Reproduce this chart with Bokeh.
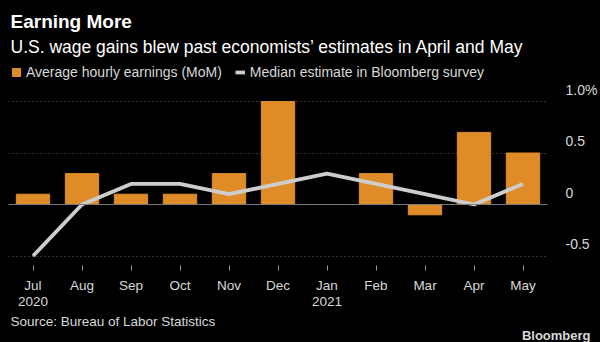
from bokeh.plotting import figure
from bokeh.models import (Range1d, LinearAxis, FixedTicker, Legend, LegendItem, Span, Grid,
                          ColumnDataSource, Title)
from bokeh.embed import file_html
from bokeh.resources import INLINE

months = ["Jul", "Aug", "Sep", "Oct", "Nov", "Dec", "Jan", "Feb", "Mar", "Apr", "May"]
year_of = ["2020", "", "", "", "", "", "2021", "", "", "", ""]
earnings = [0.1, 0.3, 0.1, 0.1, 0.3, 1.0, 0.0, 0.3, -0.1, 0.7, 0.5]
median_est = [-0.5, 0.0, 0.2, 0.2, 0.1, 0.2, 0.3, 0.2, 0.1, 0.0, 0.2]
y_ticks = [-0.5, 0, 0.5, 1.0]
y_tick_labels = ["-0.5", "0", "0.5", "1.0%"]

FONT = "Liberation Sans"
ORANGE = "#DF8C28"
LINEC = "#CDCDCD"
TXT = "#D8D8D8"

idx = list(range(len(months)))
src = ColumnDataSource(dict(x=idx, month=months, earn=earnings, med=median_est))

# frame: top 62, bottom 265 ; 0 -> 204, 103 px per unit
TOP, BOT, ZERO, PPU = 62, 265, 204, 103.0
y0 = (ZERO - BOT) / PPU
y1 = (ZERO - TOP) / PPU
shift = 12 / PPU

p = figure(width=600, height=342, x_range=Range1d(-0.5, len(months) - 0.5),
           y_range=Range1d(y0, y1),
           output_backend="svg", toolbar_location=None, x_axis_type=None, y_axis_type=None,
           min_border_left=8, min_border_right=52, min_border_top=TOP, min_border_bottom=342 - BOT,
           background_fill_color="black", border_fill_color="black")
p.outline_line_color = None
p.styles = {"background-color": "black"}

p.add_layout(Grid(dimension=1, ticker=FixedTicker(ticks=[-0.5, 0.5, 1.0]),
                  grid_line_color="#6a6a6a", grid_line_dash="1 3", grid_line_width=1))
p.add_layout(Span(location=0, dimension="width", line_color="#7a7a7a", line_width=1))

bars = p.vbar(x="x", top="earn", width=0.68, source=src, fill_color=ORANGE, line_color=ORANGE)
ln = p.line(x="x", y="med", source=src, line_width=3.8, line_color=LINEC)

p.extra_y_ranges = {"lab": Range1d(y0 - shift, y1 - shift)}
ya = LinearAxis(y_range_name="lab", ticker=FixedTicker(ticks=y_ticks),
                major_label_overrides={k: v for k, v in zip(y_ticks, y_tick_labels)},
                axis_line_color=None, major_tick_line_color=None, minor_tick_line_color=None,
                major_label_text_color=TXT, major_label_text_font_size="14px",
                major_label_text_font=FONT, major_label_standoff=12)
p.add_layout(ya, "right")

xa = LinearAxis(ticker=FixedTicker(ticks=idx),
                major_label_overrides={i: m for i, m in zip(idx, months)},
                axis_line_color=None, major_tick_line_color="#9a9a9a", major_tick_in=0,
                minor_tick_line_color=None,
                major_tick_out=5, major_label_standoff=7, major_label_text_color=TXT,
                major_label_text_font_size="13.5px", major_label_text_font=FONT)
p.add_layout(xa, "below")

yr_ticks = [i for i, y in zip(idx, year_of) if y]
xa2 = LinearAxis(ticker=FixedTicker(ticks=yr_ticks),
                 major_label_overrides={i: year_of[i] for i in yr_ticks},
                 axis_line_color=None, major_tick_line_color=None, minor_tick_line_color=None,
                 major_tick_out=0, major_tick_in=0,
                 major_label_standoff=1, major_label_text_color=TXT,
                 major_label_text_font_size="13.5px", major_label_text_font=FONT)
p.add_layout(xa2, "below")

legend = Legend(items=[LegendItem(label="Average hourly earnings (MoM)", renderers=[bars]),
                       LegendItem(label="Median estimate in Bloomberg survey", renderers=[ln])],
                location=(3, 185), orientation="horizontal", glyph_width=10, glyph_height=10,
                label_standoff=5, spacing=13, padding=0, margin=0,
                background_fill_alpha=0, border_line_color=None,
                label_text_color=TXT, label_text_font_size="14px", label_text_font=FONT)
p.add_layout(legend, "center")

p.add_layout(Title(text="U.S. wage gains blew past economists\u2019 estimates in April and May",
                   text_font=FONT, text_font_size="17.5px", text_color="white",
                   text_font_style="normal", align="left", offset=2, standoff=12), "above")
p.add_layout(Title(text="Earning More", text_font=FONT, text_font_style="bold",
                   text_font_size="19px", text_color="white", align="left", offset=2,
                   standoff=-7), "above")

p.add_layout(Title(text="Source: Bureau of Labor Statistics", text_font=FONT,
                   text_font_style="normal", text_font_size="13.5px", text_color=TXT,
                   align="left", offset=2, standoff=6), "below")
p.add_layout(Title(text="Bloomberg", text_font=FONT, text_font_style="bold",
                   text_font_size="13px", text_color=TXT, align="right", offset=-43,
                   standoff=-12), "below")

open("out.html", "w").write(file_html(p, INLINE))
